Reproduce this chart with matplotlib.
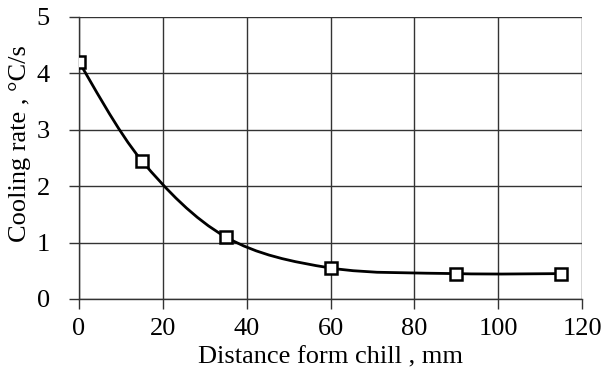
import numpy as np
import matplotlib.pyplot as plt
from matplotlib.path import Path
from matplotlib.patches import PathPatch

# Daten
distance = [0, 15, 35, 60, 90, 115]
cooling_rate = [4.2, 2.45, 1.1, 0.55, 0.45, 0.45]
x_ticks = [0, 20, 40, 60, 80, 100, 120]
y_ticks = [0, 1, 2, 3, 4, 5]

plt.rcParams['font.family'] = ['Liberation Serif', 'DejaVu Serif']

fig = plt.figure(figsize=(6.05, 3.82), dpi=100)
ax = fig.add_axes([0.1306, 0.2173, 0.8314, 0.7382])

# geglaettete Linie wie in Excel (Bezier mit Catmull-Rom Kontrollpunkten)
pts = np.column_stack([distance, cooling_rate])
verts = [tuple(pts[0])]
codes = [Path.MOVETO]
n = len(pts)
for i in range(n - 1):
    p0 = pts[max(i - 1, 0)]
    p1 = pts[i]
    p2 = pts[i + 1]
    p3 = pts[min(i + 2, n - 1)]
    c1 = p1 + (p2 - p0) / 6
    c2 = p2 - (p3 - p1) / 6
    verts += [tuple(c1), tuple(c2), tuple(p2)]
    codes += [Path.CURVE4] * 3
ax.add_patch(PathPatch(Path(verts, codes), fill=False, edgecolor='black', lw=2.0, zorder=3))

ax.plot(distance, cooling_rate, linestyle='none', marker='s', markersize=9,
        markerfacecolor='white', markeredgecolor='black', markeredgewidth=1.8, zorder=4)

ax.set_xlim(0, 120)
ax.set_ylim(0, 5)
ax.set_xticks(x_ticks)
ax.set_yticks(y_ticks)
ax.grid(True, color='#333333', lw=1.0)
ax.set_axisbelow(True)
for s in ['top', 'right']:
    ax.spines[s].set_visible(False)
for s in ['left', 'bottom']:
    ax.spines[s].set_color('#333333')
    ax.spines[s].set_linewidth(1.0)
ax.tick_params(direction='out', length=7, width=1.0, color='#333333', labelsize=19)
ax.tick_params(axis='x', pad=7)
ax.tick_params(axis='y', pad=14)

ax.set_xlabel('Distance form chill , mm', fontsize=19, labelpad=4)
ax.set_ylabel('Cooling rate , °C/s', fontsize=19)
ax.yaxis.set_label_coords(-0.095, 0.55)

plt.savefig('out.png', dpi=100)
